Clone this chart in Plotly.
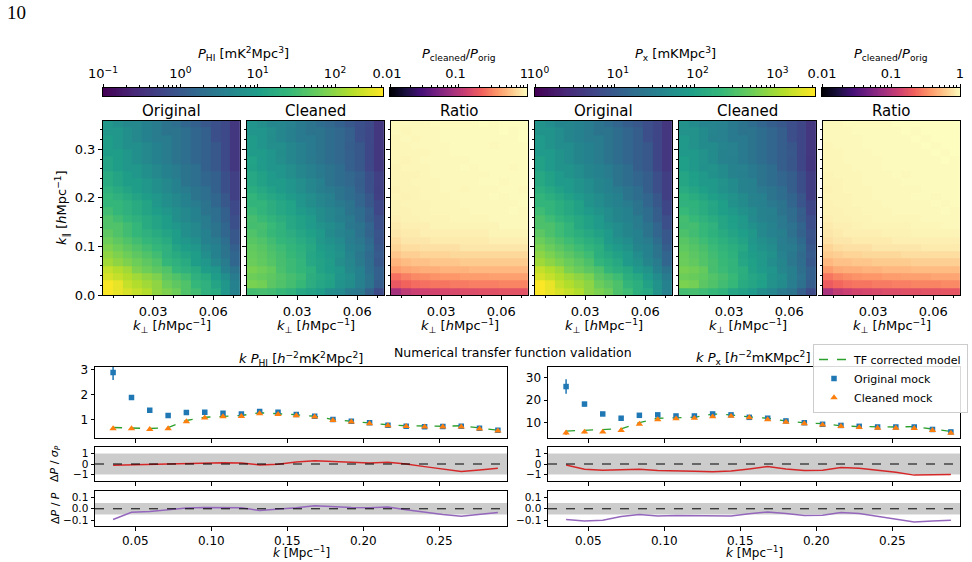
import numpy as np
import plotly.graph_objects as go

# ---------------- data ----------------
kperp = [0.0074, 0.0123, 0.0172, 0.0221, 0.0270, 0.0318, 0.0367,
         0.0416, 0.0465, 0.0514, 0.0562, 0.0611, 0.0660, 0.0709]
kpar = [0.0075, 0.0225, 0.0375, 0.0525, 0.0675, 0.0825, 0.0975, 0.1125,
        0.1275, 0.1425, 0.1575, 0.1725, 0.1875, 0.2025, 0.2175, 0.2325,
        0.2475, 0.2625, 0.2775, 0.2925, 0.3075, 0.3225, 0.3375, 0.3525]

# log10 P_HI, original (rows: kpar bins bottom->top, cols: kperp bins)
logP_HI_orig = [
    [2.6, 2.5, 2.4, 2.3, 2.2, 2.0, 1.9, 1.8, 1.6, 1.5, 1.3, 1.2, 0.9, 0.6],
    [2.6, 2.5, 2.3, 2.2, 2.1, 2.0, 1.8, 1.7, 1.6, 1.4, 1.3, 1.1, 0.9, 0.6],
    [2.4, 2.3, 2.2, 2.1, 2.0, 1.9, 1.7, 1.6, 1.5, 1.3, 1.2, 1.0, 0.8, 0.5],
    [2.3, 2.2, 2.1, 1.9, 1.8, 1.7, 1.6, 1.4, 1.3, 1.2, 1.0, 0.9, 0.6, 0.4],
    [2.1, 2.0, 1.9, 1.8, 1.7, 1.6, 1.4, 1.3, 1.2, 1.0, 0.9, 0.7, 0.5, 0.2],
    [2.0, 1.9, 1.8, 1.7, 1.6, 1.5, 1.3, 1.2, 1.1, 1.0, 0.8, 0.6, 0.4, 0.2],
    [1.9, 1.8, 1.7, 1.6, 1.5, 1.4, 1.3, 1.1, 1.0, 0.9, 0.7, 0.6, 0.4, 0.1],
    [1.8, 1.7, 1.6, 1.5, 1.4, 1.3, 1.2, 1.0, 0.9, 0.8, 0.6, 0.5, 0.3, 0.0],
    [1.7, 1.6, 1.5, 1.4, 1.3, 1.2, 1.1, 1.0, 0.8, 0.7, 0.6, 0.4, 0.2, 0.0],
    [1.6, 1.6, 1.5, 1.4, 1.2, 1.1, 1.0, 0.9, 0.8, 0.7, 0.5, 0.4, 0.2, -0.1],
    [1.6, 1.5, 1.4, 1.3, 1.2, 1.1, 1.0, 0.8, 0.7, 0.6, 0.5, 0.3, 0.1, -0.1],
    [1.5, 1.4, 1.3, 1.2, 1.1, 1.0, 0.9, 0.8, 0.7, 0.6, 0.4, 0.3, 0.1, -0.2],
    [1.4, 1.4, 1.3, 1.2, 1.1, 0.9, 0.8, 0.7, 0.6, 0.5, 0.4, 0.2, 0.0, -0.2],
    [1.4, 1.3, 1.2, 1.1, 1.0, 0.9, 0.8, 0.7, 0.6, 0.4, 0.3, 0.2, 0.0, -0.3],
    [1.3, 1.2, 1.1, 1.0, 0.9, 0.8, 0.7, 0.6, 0.5, 0.4, 0.3, 0.1, -0.1, -0.3],
    [1.2, 1.1, 1.0, 1.0, 0.9, 0.8, 0.7, 0.6, 0.4, 0.3, 0.2, 0.1, -0.1, -0.3],
    [1.2, 1.1, 1.0, 0.9, 0.8, 0.7, 0.6, 0.5, 0.4, 0.3, 0.2, 0.1, -0.1, -0.3],
    [1.1, 1.0, 0.9, 0.9, 0.8, 0.7, 0.6, 0.5, 0.4, 0.3, 0.1, 0.0, -0.2, -0.4],
    [1.1, 1.0, 0.9, 0.8, 0.7, 0.6, 0.5, 0.4, 0.3, 0.2, 0.1, 0.0, -0.2, -0.4],
    [1.0, 1.0, 0.9, 0.8, 0.7, 0.6, 0.5, 0.4, 0.3, 0.2, 0.1, 0.0, -0.2, -0.4],
    [1.0, 0.9, 0.8, 0.8, 0.7, 0.6, 0.5, 0.4, 0.3, 0.2, 0.1, 0.0, -0.2, -0.4],
    [1.0, 0.9, 0.8, 0.7, 0.6, 0.5, 0.5, 0.4, 0.3, 0.2, 0.1, -0.1, -0.2, -0.4],
    [0.9, 0.9, 0.8, 0.7, 0.6, 0.5, 0.4, 0.4, 0.3, 0.2, 0.1, -0.1, -0.2, -0.4],
    [0.9, 0.8, 0.7, 0.7, 0.6, 0.5, 0.4, 0.3, 0.2, 0.1, 0.0, -0.1, -0.2, -0.4],
]

# log10 (P_cleaned / P_orig) for HI
logRatio_HI = [
    [-1.08, -0.96, -0.90, -0.88, -0.86, -0.84, -0.82, -0.80, -0.80, -0.78, -0.78, -0.76, -0.76, -0.76],
    [-0.72, -0.66, -0.62, -0.60, -0.58, -0.58, -0.56, -0.56, -0.54, -0.54, -0.54, -0.52, -0.52, -0.52],
    [-0.60, -0.54, -0.50, -0.48, -0.46, -0.44, -0.44, -0.42, -0.42, -0.42, -0.40, -0.40, -0.40, -0.40],
    [-0.42, -0.38, -0.36, -0.34, -0.34, -0.32, -0.32, -0.32, -0.30, -0.30, -0.30, -0.30, -0.30, -0.30],
    [-0.32, -0.28, -0.26, -0.26, -0.24, -0.24, -0.24, -0.22, -0.22, -0.22, -0.22, -0.22, -0.22, -0.22],
    [-0.24, -0.20, -0.20, -0.18, -0.18, -0.18, -0.16, -0.16, -0.16, -0.16, -0.16, -0.16, -0.16, -0.16],
    [-0.18, -0.14, -0.14, -0.12, -0.12, -0.12, -0.12, -0.10, -0.10, -0.10, -0.10, -0.10, -0.10, -0.10],
    [-0.14, -0.10, -0.10, -0.10, -0.08, -0.08, -0.08, -0.08, -0.08, -0.08, -0.06, -0.06, -0.06, -0.06],
    [-0.10, -0.08, -0.08, -0.06, -0.06, -0.06, -0.06, -0.06, -0.06, -0.06, -0.04, -0.04, -0.04, -0.04],
    [-0.08, -0.06, -0.06, -0.06, -0.04, -0.04, -0.04, -0.04, -0.04, -0.04, -0.04, -0.02, -0.02, -0.02],
    [-0.06, -0.05, -0.05, -0.04, -0.04, -0.04, -0.03, -0.03, -0.03, -0.03, -0.02, -0.02, -0.02, -0.02],
    [-0.05, -0.05, -0.04, -0.04, -0.03, -0.03, -0.03, -0.03, -0.02, -0.02, -0.02, -0.02, -0.01, -0.02],
    [-0.05, -0.04, -0.04, -0.04, -0.03, -0.03, -0.03, -0.02, -0.02, -0.02, -0.02, -0.02, -0.02, -0.01],
    [-0.04, -0.05, -0.04, -0.03, -0.03, -0.03, -0.02, -0.02, -0.02, -0.02, -0.01, -0.02, -0.01, -0.01],
    [-0.05, -0.04, -0.04, -0.03, -0.03, -0.02, -0.02, -0.03, -0.02, -0.02, -0.02, -0.01, -0.01, -0.02],
    [-0.04, -0.04, -0.03, -0.03, -0.03, -0.02, -0.02, -0.02, -0.02, -0.01, -0.01, -0.02, -0.01, -0.01],
    [-0.04, -0.04, -0.04, -0.03, -0.02, -0.02, -0.02, -0.02, -0.02, -0.02, -0.01, -0.01, -0.01, -0.01],
    [-0.04, -0.03, -0.03, -0.03, -0.02, -0.02, -0.02, -0.01, -0.02, -0.01, -0.01, -0.01, -0.02, -0.01],
    [-0.03, -0.04, -0.03, -0.02, -0.02, -0.02, -0.02, -0.02, -0.01, -0.01, -0.01, -0.01, -0.01, -0.01],
    [-0.03, -0.03, -0.03, -0.03, -0.02, -0.02, -0.01, -0.01, -0.01, -0.01, -0.01, -0.01, -0.01, -0.01],
    [-0.03, -0.03, -0.02, -0.02, -0.02, -0.02, -0.01, -0.01, -0.01, -0.01, -0.02, -0.01, -0.01, -0.01],
    [-0.03, -0.02, -0.03, -0.02, -0.02, -0.01, -0.01, -0.01, -0.01, -0.01, -0.01, -0.01, -0.01, -0.00],
    [-0.02, -0.03, -0.02, -0.02, -0.02, -0.01, -0.01, -0.01, -0.01, -0.01, -0.01, -0.00, -0.01, -0.00],
    [-0.02, -0.02, -0.02, -0.02, -0.01, -0.01, -0.01, -0.01, -0.01, -0.00, -0.01, -0.00, -0.00, -0.00],
]

# log10 P_x, original
logP_X_orig = [
    [3.5, 3.4, 3.3, 3.2, 3.1, 2.9, 2.8, 2.7, 2.5, 2.4, 2.2, 2.1, 1.8, 1.55],
    [3.5, 3.4, 3.2, 3.1, 3.0, 2.9, 2.7, 2.6, 2.5, 2.3, 2.2, 2.0, 1.8, 1.55],
    [3.3, 3.2, 3.1, 3.0, 2.9, 2.8, 2.6, 2.5, 2.4, 2.2, 2.1, 1.9, 1.7, 1.45],
    [3.2, 3.1, 3.0, 2.8, 2.7, 2.6, 2.5, 2.3, 2.2, 2.1, 1.9, 1.8, 1.55, 1.35],
    [3.0, 2.9, 2.8, 2.7, 2.6, 2.5, 2.3, 2.2, 2.1, 1.9, 1.8, 1.6, 1.45, 1.15],
    [2.9, 2.8, 2.7, 2.6, 2.5, 2.4, 2.2, 2.1, 2.0, 1.9, 1.7, 1.55, 1.35, 1.15],
    [2.8, 2.7, 2.6, 2.5, 2.4, 2.3, 2.2, 2.0, 1.9, 1.8, 1.6, 1.55, 1.35, 1.05],
    [2.7, 2.6, 2.5, 2.4, 2.3, 2.2, 2.1, 1.9, 1.8, 1.7, 1.55, 1.45, 1.25, 0.95],
    [2.6, 2.5, 2.4, 2.3, 2.2, 2.1, 2.0, 1.9, 1.7, 1.6, 1.55, 1.35, 1.15, 0.95],
    [2.5, 2.5, 2.4, 2.3, 2.1, 2.0, 1.9, 1.8, 1.7, 1.6, 1.45, 1.35, 1.15, 0.85],
    [2.5, 2.4, 2.3, 2.2, 2.1, 2.0, 1.9, 1.7, 1.6, 1.55, 1.45, 1.25, 1.05, 0.85],
    [2.4, 2.3, 2.2, 2.1, 2.0, 1.9, 1.8, 1.7, 1.6, 1.55, 1.35, 1.25, 1.05, 0.75],
    [2.3, 2.3, 2.2, 2.1, 2.0, 1.8, 1.7, 1.6, 1.55, 1.45, 1.35, 1.15, 0.95, 0.75],
    [2.3, 2.2, 2.1, 2.0, 1.9, 1.8, 1.7, 1.6, 1.55, 1.35, 1.25, 1.15, 0.95, 0.65],
    [2.2, 2.1, 2.0, 1.9, 1.8, 1.7, 1.6, 1.55, 1.45, 1.35, 1.25, 1.05, 0.85, 0.65],
    [2.1, 2.0, 1.9, 1.9, 1.8, 1.7, 1.6, 1.55, 1.35, 1.25, 1.15, 1.05, 0.85, 0.65],
    [2.1, 2.0, 1.9, 1.8, 1.7, 1.6, 1.55, 1.45, 1.35, 1.25, 1.15, 1.05, 0.85, 0.65],
    [2.0, 1.9, 1.8, 1.8, 1.7, 1.6, 1.55, 1.45, 1.35, 1.25, 1.05, 0.95, 0.75, 0.55],
    [2.0, 1.9, 1.8, 1.7, 1.6, 1.55, 1.45, 1.35, 1.25, 1.15, 1.05, 0.95, 0.75, 0.55],
    [1.9, 1.9, 1.8, 1.7, 1.6, 1.55, 1.45, 1.35, 1.25, 1.15, 1.05, 0.95, 0.75, 0.55],
    [1.9, 1.8, 1.7, 1.7, 1.6, 1.55, 1.45, 1.35, 1.25, 1.15, 1.05, 0.95, 0.75, 0.55],
    [1.9, 1.8, 1.7, 1.6, 1.55, 1.45, 1.45, 1.35, 1.25, 1.15, 1.05, 0.85, 0.75, 0.55],
    [1.8, 1.8, 1.7, 1.6, 1.55, 1.45, 1.35, 1.35, 1.25, 1.15, 1.05, 0.85, 0.75, 0.55],
    [1.8, 1.7, 1.6, 1.6, 1.55, 1.45, 1.35, 1.25, 1.15, 1.05, 0.95, 0.85, 0.75, 0.55],
]

# log10 (P_cleaned / P_orig) for the cross power
logRatio_X = [
    [-1.06, -0.94, -0.90, -0.86, -0.84, -0.82, -0.80, -0.80, -0.78, -0.78, -0.76, -0.76, -0.74, -0.74],
    [-0.70, -0.64, -0.60, -0.58, -0.58, -0.56, -0.56, -0.54, -0.54, -0.52, -0.52, -0.52, -0.50, -0.50],
    [-0.58, -0.52, -0.48, -0.46, -0.44, -0.44, -0.42, -0.42, -0.40, -0.40, -0.40, -0.38, -0.38, -0.38],
    [-0.42, -0.36, -0.34, -0.34, -0.32, -0.32, -0.30, -0.30, -0.30, -0.28, -0.28, -0.28, -0.28, -0.28],
    [-0.30, -0.26, -0.26, -0.24, -0.24, -0.22, -0.22, -0.22, -0.22, -0.20, -0.20, -0.20, -0.20, -0.20],
    [-0.22, -0.20, -0.18, -0.18, -0.16, -0.16, -0.16, -0.16, -0.14, -0.14, -0.14, -0.14, -0.14, -0.14],
    [-0.18, -0.14, -0.12, -0.12, -0.12, -0.10, -0.10, -0.10, -0.10, -0.10, -0.08, -0.08, -0.08, -0.08],
    [-0.12, -0.10, -0.10, -0.08, -0.08, -0.08, -0.08, -0.06, -0.06, -0.06, -0.06, -0.06, -0.06, -0.06],
    [-0.10, -0.08, -0.06, -0.06, -0.06, -0.06, -0.05, -0.05, -0.05, -0.04, -0.04, -0.04, -0.04, -0.04],
    [-0.08, -0.06, -0.06, -0.05, -0.04, -0.04, -0.04, -0.04, -0.04, -0.03, -0.03, -0.03, -0.02, -0.02],
    [-0.06, -0.05, -0.05, -0.04, -0.04, -0.03, -0.03, -0.03, -0.03, -0.03, -0.02, -0.02, -0.02, -0.02],
    [-0.05, -0.05, -0.04, -0.04, -0.03, -0.03, -0.03, -0.02, -0.02, -0.02, -0.02, -0.02, -0.01, -0.02],
    [-0.05, -0.04, -0.04, -0.03, -0.03, -0.03, -0.02, -0.02, -0.02, -0.02, -0.02, -0.01, -0.02, -0.01],
    [-0.04, -0.04, -0.04, -0.03, -0.03, -0.02, -0.02, -0.02, -0.02, -0.01, -0.01, -0.02, -0.01, -0.01],
    [-0.05, -0.04, -0.03, -0.03, -0.03, -0.02, -0.02, -0.02, -0.02, -0.02, -0.01, -0.01, -0.01, -0.01],
    [-0.04, -0.04, -0.03, -0.03, -0.02, -0.02, -0.02, -0.02, -0.01, -0.01, -0.01, -0.01, -0.01, -0.01],
    [-0.04, -0.03, -0.03, -0.03, -0.02, -0.02, -0.02, -0.01, -0.02, -0.01, -0.01, -0.01, -0.01, -0.01],
    [-0.03, -0.03, -0.03, -0.02, -0.02, -0.02, -0.01, -0.01, -0.01, -0.01, -0.01, -0.01, -0.01, -0.01],
    [-0.03, -0.03, -0.02, -0.02, -0.02, -0.02, -0.01, -0.01, -0.01, -0.01, -0.01, -0.01, -0.00, -0.01],
    [-0.03, -0.03, -0.02, -0.02, -0.02, -0.01, -0.01, -0.01, -0.01, -0.01, -0.01, -0.00, -0.01, -0.00],
    [-0.03, -0.02, -0.02, -0.02, -0.01, -0.01, -0.01, -0.01, -0.01, -0.01, -0.00, -0.01, -0.00, -0.00],
    [-0.02, -0.02, -0.02, -0.02, -0.01, -0.01, -0.01, -0.01, -0.01, -0.00, -0.01, -0.00, -0.00, -0.00],
    [-0.02, -0.02, -0.02, -0.01, -0.01, -0.01, -0.01, -0.01, -0.00, -0.01, -0.00, -0.00, -0.00, -0.00],
    [-0.02, -0.02, -0.01, -0.01, -0.01, -0.01, -0.01, -0.00, -0.00, -0.00, -0.00, -0.00, -0.00, -0.00],
]

# 1D transfer-function validation
k = [0.0354, 0.0475, 0.0595, 0.0716, 0.0836, 0.0957, 0.1077, 0.1198, 0.1318, 0.1439, 0.1559,
     0.1680, 0.1800, 0.1921, 0.2041, 0.2162, 0.2282, 0.2403, 0.2523, 0.2644, 0.2764, 0.2885]

kP_HI_orig = [2.88, 1.88, 1.37, 1.16, 1.28, 1.29, 1.25, 1.22, 1.32, 1.29, 1.20,
              1.13, 1.00, 0.93, 0.87, 0.77, 0.73, 0.71, 0.72, 0.73, 0.65, 0.57]
kP_HI_orig_err = [0.30, 0.10, 0.05, 0.04, 0.04, 0.04, 0.04, 0.03, 0.03, 0.03, 0.03,
                  0.03, 0.02, 0.02, 0.02, 0.02, 0.02, 0.02, 0.02, 0.02, 0.02, 0.02]
kP_HI_clean = [0.64, 0.64, 0.61, 0.64, 0.92, 1.07, 1.12, 1.13, 1.24, 1.21, 1.16,
               1.11, 0.97, 0.91, 0.84, 0.76, 0.73, 0.71, 0.71, 0.71, 0.63, 0.55]
kP_HI_clean_err = [0.05, 0.04, 0.03, 0.03, 0.03, 0.03, 0.03, 0.03, 0.03, 0.03, 0.02,
                   0.02, 0.02, 0.02, 0.02, 0.02, 0.02, 0.02, 0.02, 0.02, 0.02, 0.02]
kP_HI_model = [0.68, 0.67, 0.64, 0.68, 0.96, 1.09, 1.13, 1.16, 1.27, 1.24, 1.19,
               1.13, 1.00, 0.93, 0.85, 0.79, 0.75, 0.73, 0.73, 0.75, 0.67, 0.57]

kP_X_orig = [26.1, 18.3, 13.9, 12.0, 13.3, 13.5, 13.0, 13.0, 13.9, 13.5, 12.4,
             12.0, 10.8, 10.0, 9.3, 8.8, 8.4, 8.1, 8.1, 8.1, 7.0, 5.9]
kP_X_orig_err = [3.2, 1.0, 0.5, 0.4, 0.4, 0.4, 0.4, 0.4, 0.4, 0.3, 0.3,
                 0.3, 0.3, 0.3, 0.2, 0.2, 0.2, 0.2, 0.2, 0.2, 0.2, 0.2]
kP_X_clean = [5.5, 5.9, 5.9, 6.6, 9.4, 11.4, 11.8, 12.0, 12.7, 12.9, 12.3,
              11.4, 10.3, 9.6, 9.0, 8.4, 7.9, 7.6, 7.6, 7.5, 6.6, 5.4]
kP_X_clean_err = [1.0, 0.6, 0.4, 0.4, 0.4, 0.4, 0.4, 0.3, 0.3, 0.3, 0.3,
                  0.3, 0.3, 0.2, 0.2, 0.2, 0.2, 0.2, 0.2, 0.2, 0.2, 0.2]
kP_X_model = [6.3, 6.6, 6.8, 7.3, 10.0, 12.0, 12.2, 12.4, 13.9, 13.5, 12.6,
              12.0, 10.8, 9.9, 9.6, 8.6, 8.3, 8.1, 8.1, 8.3, 7.2, 6.1]

dP_sig_HI = [-0.13, -0.09, -0.09, -0.03, 0.03, 0.09, 0.13, 0.09, -0.09, -0.03, 0.19,
             0.31, 0.22, 0.13, 0.09, 0.16, 0.00, -0.25, -0.50, -0.72, -0.56, -0.41]
dP_rel_HI = [-0.094, -0.030, -0.024, -0.009, 0.006, 0.012, 0.012, 0.009, -0.015, -0.006, 0.009,
             0.027, 0.018, 0.012, 0.009, 0.015, -0.009, -0.030, -0.050, -0.065, -0.050, -0.032]
dP_sig_X = [-0.09, -0.50, -0.59, -0.56, -0.50, -0.63, -0.63, -0.69, -0.75, -0.66, -0.47,
            -0.25, -0.47, -0.63, -0.59, -0.34, -0.41, -0.59, -0.78, -1.06, -1.03, -1.00]
dP_rel_X = [-0.094, -0.106, -0.100, -0.068, -0.050, -0.062, -0.059, -0.059, -0.065, -0.062, -0.044,
            -0.027, -0.041, -0.059, -0.056, -0.032, -0.041, -0.065, -0.088, -0.115, -0.106, -0.100]

# colour ranges (log10)
HI_RANGE = [-1.0, 2.62]
X_RANGE = [0.0, 3.51]
RATIO_RANGE = [-2.0, 0.0]

# ---------------- layout helpers ----------------
W, H = 972, 562
FONT = "DejaVu Sans"


def px_x(a, b):
    return [a / W, b / W]


def px_y(top, bot):
    return [1 - bot / H, 1 - top / H]


def axname(kind, n):
    return kind + ("axis" if n == 1 else "axis%d" % n)


def ref(kind, n):
    return kind if n == 1 else "%s%d" % (kind, n)


fig = go.Figure()
layout = {}
annotations = []
shapes = []


def ann(text, x, y, size=13, angle=0, xanchor="center", yanchor="middle", family=FONT):
    annotations.append(dict(text=text, x=x / W, y=1 - y / H, xref="paper", yref="paper",
                            showarrow=False, xanchor=xanchor, yanchor=yanchor,
                            textangle=angle, font=dict(size=size, family=family, color="black")))


frame = dict(showline=True, mirror=True, linecolor="black", linewidth=1,
             showgrid=False, zeroline=False, ticks="outside", tickcolor="black",
             tickwidth=1, ticklen=4, automargin=False)

# ---------------- heatmaps ----------------
hm_x = [(103, 240), (247, 384), (391, 528), (535, 672), (679, 816), (823, 960)]
hm_top, hm_bot = 120.7, 295
logP_HI_clean = (np.array(logP_HI_orig) + np.array(logRatio_HI)).tolist()
logP_X_clean = (np.array(logP_X_orig) + np.array(logRatio_X)).tolist()
maps = [
    (logP_HI_orig, "Viridis", HI_RANGE, "Original"),
    (logP_HI_clean, "Viridis", HI_RANGE, "Cleaned"),
    (logRatio_HI, "Magma", RATIO_RANGE, "Ratio"),
    (logP_X_orig, "Viridis", X_RANGE, "Original"),
    (logP_X_clean, "Viridis", X_RANGE, "Cleaned"),
    (logRatio_X, "Magma", RATIO_RANGE, "Ratio"),
]
kpar_minor = [0.02, 0.04, 0.06, 0.08, 0.12, 0.14, 0.16, 0.18, 0.22, 0.24,
              0.26, 0.28, 0.32, 0.34]
for i, (z, cs, rng, title) in enumerate(maps):
    n = i + 1
    fig.add_trace(go.Heatmap(x=kperp, y=kpar, z=z, colorscale=cs, zmin=rng[0], zmax=rng[1],
                             showscale=False, xaxis=ref("x", n), yaxis=ref("y", n),
                             hoverinfo="skip"))
    layout[axname("x", n)] = dict(frame, domain=px_x(*hm_x[i]), anchor=ref("y", n),
                                  range=[0.005, 0.0733], tickmode="array",
                                  tickvals=[0.03, 0.06], ticktext=["0.03", "0.06"],
                                  tickfont=dict(size=13, family=FONT),
                                  minor=dict(tickmode="array", tickvals=[0.01, 0.02, 0.04, 0.05, 0.07],
                                             ticks="outside", ticklen=2, tickcolor="black"))
    layout[axname("y", n)] = dict(frame, domain=px_y(hm_top, hm_bot), anchor=ref("x", n),
                                  range=[0, 0.359], tickmode="array",
                                  tickvals=[0, 0.1, 0.2, 0.3], ticktext=["0.0", "0.1", "0.2", "0.3"],
                                  showticklabels=(n == 1), tickfont=dict(size=13, family=FONT),
                                  minor=dict(tickmode="array", tickvals=kpar_minor,
                                             ticks="outside", ticklen=2, tickcolor="black"))
    cx = (hm_x[i][0] + hm_x[i][1]) / 2
    ann(title, cx, 110.5, size=15)
    ann("<i>k</i><sub>⊥</sub> [<i>h</i>Mpc<sup>−1</sup>]", cx, 326, size=13)

ann("<i>k</i><sub>∥</sub> [<i>h</i>Mpc<sup>−1</sup>]", 62, 208, size=13, angle=-90)

# ---------------- colour bars (top strips) ----------------
cb_specs = [
    ((103, 383), "Viridis", HI_RANGE, [-1, 0, 1, 2],
     ["10<sup>−1</sup>", "10<sup>0</sup>", "10<sup>1</sup>", "10<sup>2</sup>"],
     "<i>P</i><sub>HI</sub> [mK<sup>2</sup>Mpc<sup>3</sup>]", 0),
    ((390, 527), "Magma", RATIO_RANGE, [-2, -1, 0], ["0.01", "0.1", "1"],
     "<i>P</i><sub>cleaned</sub>/<i>P</i><sub>orig</sub>", -3),
    ((535, 815), "Viridis", X_RANGE, [0, 1, 2, 3],
     ["10<sup>0</sup>", "10<sup>1</sup>", "10<sup>2</sup>", "10<sup>3</sup>"],
     "<i>P</i><sub>x</sub> [mKMpc<sup>3</sup>]", 3),
    ((822, 960), "Magma", RATIO_RANGE, [-2, -1, 0], ["0.01", "0.1", "1"],
     "<i>P</i><sub>cleaned</sub>/<i>P</i><sub>orig</sub>", 0),
]
for j, (xs, cs, rng, tv, tt, title, shift) in enumerate(cb_specs):
    n = 13 + j
    grad = np.linspace(rng[0], rng[1], 256)
    fig.add_trace(go.Heatmap(x=grad, y=[0.5], z=[grad], colorscale=cs, zmin=rng[0], zmax=rng[1],
                             showscale=False, xaxis=ref("x", n), yaxis=ref("y", n),
                             hoverinfo="skip"))
    minor_vals = [d + np.log10(m) for d in range(int(np.floor(rng[0])), int(np.ceil(rng[1])))
                  for m in range(2, 10) if d + np.log10(m) < rng[1]]
    layout[axname("x", n)] = dict(frame, domain=px_x(*xs), anchor=ref("y", n), side="top",
                                  range=rng, tickmode="array", tickvals=tv, ticktext=tt,
                                  ticklen=3.5, tickfont=dict(size=13, family=FONT),
                                  ticklabelshift=shift,
                                  minor=dict(tickmode="array", tickvals=minor_vals,
                                             ticks="outside", ticklen=2, tickcolor="black"))
    layout[axname("y", n)] = dict(domain=px_y(88, 96), anchor=ref("x", n), range=[0, 1],
                                  showticklabels=False, ticks="", showgrid=False,
                                  zeroline=False, showline=True, mirror=True,
                                  linecolor="black", linewidth=1, automargin=False)
    ann(title, (xs[0] + xs[1]) / 2, 54, size=13)

# ---------------- 1D panels ----------------
KRANGE = [0.0235, 0.2945]
kt_vals = [0.05, 0.10, 0.15, 0.20, 0.25]
kt_text = ["0.05", "0.10", "0.15", "0.20", "0.25"]
BLUE, ORANGE, GREEN, RED, PURPLE = "#1f77b4", "#ff7f0e", "#2ca02c", "#d62728", "#9467bd"

panels = [
    dict(xs=(95, 507), data=(kP_HI_orig, kP_HI_orig_err, kP_HI_clean, kP_HI_clean_err, kP_HI_model),
         yr=[0.26, 3.1], yt=[1, 2, 3], ytt=["1", "2", "3"], sig=dP_sig_HI, rel=dP_rel_HI,
         legend=True),
    dict(xs=(548, 960), data=(kP_X_orig, kP_X_orig_err, kP_X_clean, kP_X_clean_err, kP_X_model),
         yr=[3.2, 34.8], yt=[10, 20, 30], ytt=["10", "20", "30"], sig=dP_sig_X, rel=dP_rel_X,
         legend=False),
]
rows_y = [(367, 438), (447, 481), (491, 526)]
tickfont12 = dict(size=12, family=FONT)
tickfont_res = dict(size=10.5, family=FONT)
for p_i, p in enumerate(panels):
    base = 7 + 3 * p_i
    orig, orig_err, clean, clean_err, model = p["data"]
    n = base
    fig.add_trace(go.Scatter(x=k, y=model, mode="lines", line=dict(color=GREEN, dash="dash", width=1.3),
                             name="TF corrected model", legendrank=1, showlegend=p["legend"],
                             xaxis=ref("x", n), yaxis=ref("y", n)))
    fig.add_trace(go.Scatter(x=k, y=orig, mode="markers",
                             marker=dict(symbol="square", size=5.5, color=BLUE),
                             error_y=dict(type="data", array=orig_err, color=BLUE, thickness=1.5, width=0),
                             name="Original mock", legendrank=2, showlegend=p["legend"],
                             xaxis=ref("x", n), yaxis=ref("y", n)))
    fig.add_trace(go.Scatter(x=k, y=clean, mode="markers",
                             marker=dict(symbol="triangle-up", size=6.5, color=ORANGE),
                             error_y=dict(type="data", array=clean_err, color=ORANGE, thickness=1.5, width=0),
                             name="Cleaned mock", legendrank=3, showlegend=p["legend"],
                             xaxis=ref("x", n), yaxis=ref("y", n)))
    fig.add_trace(go.Scatter(x=k, y=p["sig"], mode="lines", line=dict(color=RED, width=1.5),
                             showlegend=False, xaxis=ref("x", base + 1), yaxis=ref("y", base + 1)))
    fig.add_trace(go.Scatter(x=k, y=p["rel"], mode="lines", line=dict(color=PURPLE, width=1.5),
                             showlegend=False, xaxis=ref("x", base + 2), yaxis=ref("y", base + 2)))
    yspecs = [
        dict(range=p["yr"], tickvals=p["yt"], ticktext=p["ytt"], tickfont=tickfont12),
        dict(range=[-1.62, 1.62], tickvals=[-1, 0, 1], ticktext=["−1", "0", "1"], tickfont=tickfont_res),
        dict(range=[-0.15, 0.155], tickvals=[-0.1, 0.0, 0.1], ticktext=["−0.1", "0.0", "0.1"],
             tickfont=tickfont_res),
    ]
    for r in range(3):
        n = base + r
        layout[axname("x", n)] = dict(frame, domain=px_x(*p["xs"]), anchor=ref("y", n),
                                      range=KRANGE, tickmode="array", tickvals=kt_vals,
                                      ticktext=kt_text, showticklabels=(r == 2), ticklen=3.5,
                                      tickfont=tickfont12)
        layout[axname("y", n)] = dict(frame, domain=px_y(*rows_y[r]), anchor=ref("x", n),
                                      tickmode="array", ticklen=3.5, **yspecs[r])
    for r, band in [(1, 1.0), (2, 0.05)]:
        n = base + r
        shapes.append(dict(type="rect", xref=ref("x", n) + " domain", yref=ref("y", n),
                           x0=0, x1=1, y0=-band, y1=band, fillcolor="rgba(0,0,0,0.2)",
                           line=dict(width=0), layer="below"))
        shapes.append(dict(type="line", xref=ref("x", n) + " domain", yref=ref("y", n),
                           x0=0, x1=1, y0=0, y1=0, line=dict(color="black", width=1, dash="dash"),
                           layer="above"))
    cx = (p["xs"][0] + p["xs"][1]) / 2
    ann("<i>k</i> [Mpc<sup>−1</sup>]", cx, 552, size=12)

ann("<i>k P</i><sub>HI</sub> [<i>h</i><sup>−2</sup>mK<sup>2</sup>Mpc<sup>2</sup>]", 301, 359, size=13)
ann("<i>k P</i><sub>x</sub> [<i>h</i><sup>−2</sup>mKMpc<sup>2</sup>]", 753, 358, size=13)
ann("Numerical transfer function validation", 513, 352, size=12.5)
ann("Δ<i>P</i> / <i>σ</i><sub><i>P</i></sub>", 55, 464, size=11, angle=-90)
ann("Δ<i>P</i> / <i>P</i>", 55, 508, size=11, angle=-90)
ann("10", 5, 13, size=19, xanchor="left", family="Liberation Serif")

fig.update_layout(
    template="none",
    width=W, height=H, margin=dict(l=0, r=0, t=0, b=0, autoexpand=False),
    paper_bgcolor="white", plot_bgcolor="white",
    font=dict(family=FONT, color="black"),
    annotations=annotations, shapes=shapes,
    legend=dict(x=813 / W, y=1 - 344 / H, xanchor="left", yanchor="top",
                bgcolor="rgba(255,255,255,0.85)", bordercolor="#cccccc", borderwidth=1,
                font=dict(size=11, family=FONT), tracegroupgap=0, itemwidth=30),
    **layout,
)

fig.write_html("out.html")
